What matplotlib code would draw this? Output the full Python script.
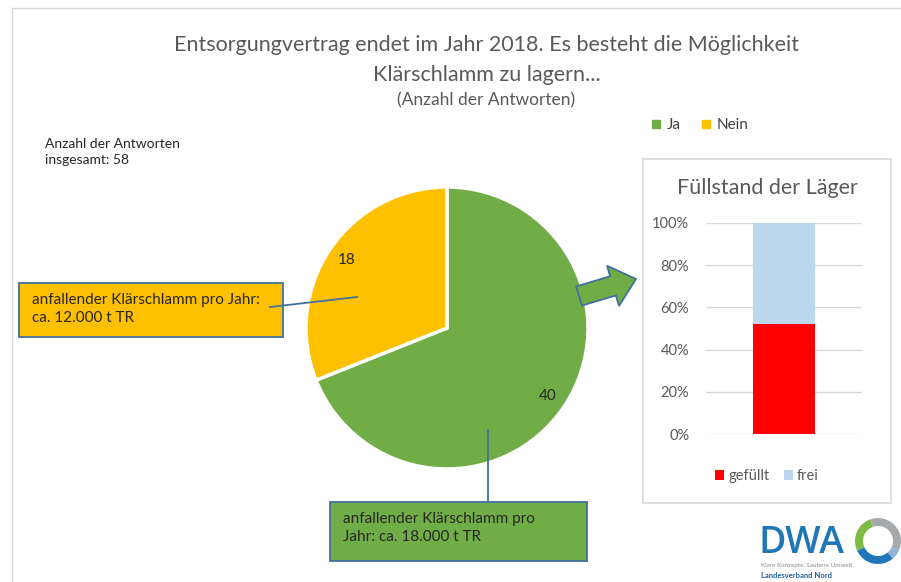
import matplotlib.pyplot as plt
from matplotlib.patches import Rectangle, FancyArrow, Wedge
from matplotlib.lines import Line2D

plt.rcParams["font.family"] = ["Lato", "DejaVu Sans"]

# data
answer_labels = ["Ja", "Nein"]
answer_counts = [40, 18]
answer_colors = ["#70ad47", "#ffc000"]

fill_labels = ["gefüllt", "frei"]
fill_shares = [0.52, 0.48]
fill_colors = ["#ff0000", "#bdd7ee"]
fill_ticks = [0, 0.2, 0.4, 0.6, 0.8, 1.0]

title_lines = ["Entsorgungvertrag endet im Jahr 2018. Es besteht die Möglichkeit",
               "Klärschlamm zu lagern..."]
subtitle = "(Anzahl der Antworten)"
total_note = "Anzahl der Antworten\ninsgesamt: 58"
note_nein = "anfallender Klärschlamm pro Jahr:\nca. 12.000 t TR"
note_ja = "anfallender Klärschlamm pro\nJahr: ca. 18.000 t TR"

W, H = 901, 582
fig = plt.figure(figsize=(W / 100, H / 100), dpi=100)


def px_axes(x0, y0, x1, y1, **kw):
    # axes from pixel box (top-left origin)
    return fig.add_axes([x0 / W, 1 - y1 / H, (x1 - x0) / W, (y1 - y0) / H], **kw)


# -------------------------
# pie chart
# -------------------------
ax = px_axes(306, 187, 588, 469)
total = sum(answer_counts)
wedges, _, autotexts = ax.pie(
    answer_counts,
    colors=answer_colors,
    startangle=90,
    counterclock=False,
    autopct=lambda p: f"{p * total / 100:.0f}",
    pctdistance=0.86,
    wedgeprops=dict(edgecolor="white", linewidth=2.5),
    textprops=dict(fontsize=11, color="#262626"),
)
ax.set_xlim(-1, 1)
ax.set_ylim(-1, 1)

handles = [Line2D([], [], ls="none", marker="s", markersize=6, color=c)
           for c in answer_colors]
fig.legend(
    handles, answer_labels,
    loc="center", bbox_to_anchor=(700 / W, 1 - 125 / H),
    ncol=2, frameon=False, fontsize=11, handlelength=0.6,
    handletextpad=0.4, columnspacing=1.3, labelcolor="#404040",
)

# -------------------------
# inset: Füllstand der Läger
# -------------------------
bx = px_axes(706, 223, 862, 434)
bottom = 0
for lab, share, col in zip(fill_labels, fill_shares, fill_colors):
    bx.bar(0, share, bottom=bottom, width=0.4, color=col, label=lab, zorder=3)
    bottom += share
bx.set_xlim(-0.5, 0.5)
bx.set_ylim(0, 1)
bx.set_yticks(fill_ticks)
bx.set_yticklabels([f"{t:.0%}" for t in fill_ticks], color="#595959", fontsize=10.5)
bx.set_xticks([])
bx.tick_params(axis="y", length=0, pad=12)
bx.grid(axis="y", color="#d9d9d9", linewidth=1, zorder=0)
for s in bx.spines.values():
    s.set_visible(False)
bx.legend(
    loc="center", bbox_to_anchor=(0.39, -0.2), ncol=2, frameon=False,
    fontsize=10.5, handlelength=0.6, handleheight=0.7, handletextpad=0.3,
    columnspacing=1.0, labelcolor="#595959",
)

# -------------------------
# overlay in pixel coordinates for frame, callouts, arrow, logo
# -------------------------
ov = fig.add_axes([0, 0, 1, 1], zorder=5)
ov.set_xlim(0, W)
ov.set_ylim(H, 0)
ov.axis("off")
ov.patch.set_alpha(0)

ov.plot([12, W], [8, 8], color="#d9d9d9", lw=1)
ov.plot([12, 12], [8, H], color="#d9d9d9", lw=1)

for y, line in zip([45, 75], title_lines):
    ov.text(487, y, line, ha="center", va="center", fontsize=15.5, color="#595959")
ov.text(486, 100, subtitle, ha="center", va="center", fontsize=12.5, color="#595959")
ov.text(45, 152, total_note, ha="left", va="center", fontsize=10, color="#262626",
        linespacing=1.45)

# callout boxes
edge = "#41719c"
ov.add_patch(Rectangle((19, 283), 264, 54, fc="#ffc000", ec=edge, lw=1.3))
ov.text(32, 309, note_nein, ha="left", va="center", fontsize=11, color="#262626",
        linespacing=1.3)
ov.plot([270, 357], [307, 297], color=edge, lw=1.3)

ov.add_patch(Rectangle((330, 502), 257, 59, fc="#70ad47", ec=edge, lw=1.3))
ov.text(343, 528, note_ja, ha="left", va="center", fontsize=11, color="#262626",
        linespacing=1.3)
ov.plot([488, 488], [430, 502], color=edge, lw=1.3)

# arrow to inset
ov.add_patch(FancyArrow(579, 296, 57, -17, width=20, head_width=42, head_length=24,
                        length_includes_head=True, fc="#70ad47", ec=edge, lw=1.3))

# inset frame and title
ov.add_patch(Rectangle((643, 159), 248, 344, fc="none", ec="#d9d9d9", lw=1.2))
ov.text(767, 188, "Füllstand der Läger", ha="center", va="center", fontsize=15.5,
        color="#595959")

# DWA logo
ov.text(759, 543, "DWA", ha="left", va="center", fontsize=27, color="#1f77b8",
        family="Open Sans", fontweight="semibold")
cx, cy, r = 878, 541, 23
for a0, a1, col in [(110, 205, "#7dbb42"), (-25, 110, "#a7aaad"),
                    (-50, -25, "#8fb4dc"), (205, 310, "#1f77b8")]:
    ov.add_patch(Wedge((cx, cy), r, -a1, -a0, width=8, fc=col, ec="none"))
ov.text(761, 566, "Klare Konzepte. Saubere Umwelt.", ha="left", va="center",
        fontsize=4.5, color="#8c8c8c")
ov.text(761, 575, "Landesverband Nord", ha="left", va="center", fontsize=5.5,
        color="#1f5fa0", fontweight="bold")

fig.savefig("out.png", dpi=100)
